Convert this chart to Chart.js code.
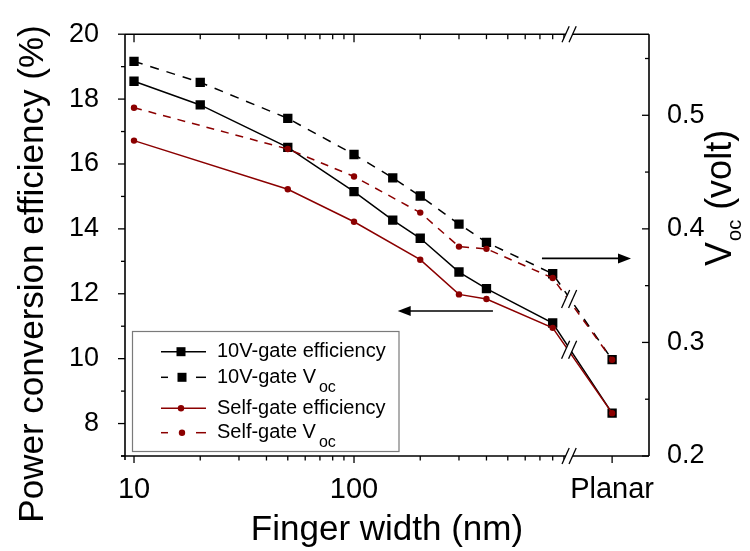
<!DOCTYPE html>
<html>
<head>
<meta charset="utf-8">
<script src="https://cdn.jsdelivr.net/npm/chart.js@4.4.1/dist/chart.umd.min.js"></script>
<style>
  html, body { margin: 0; padding: 0; background: #fff; }
  #wrap { width: 750px; height: 551px; position: relative; }
</style>
</head>
<body>
<div id="wrap"><canvas id="chart"></canvas></div>
<script>
// finger widths (nm); the last point of every series is the planar device
const widths10V = [10, 20, 50, 100, 150, 200, 300, 400, 800, 'Planar'];
const widthsSelf = [10, 50, 100, 200, 300, 400, 800, 'Planar'];

// power conversion efficiency (%) and Voc (volt)
const eff10V = [18.55, 17.82, 16.51, 15.15, 14.27, 13.71, 12.67, 12.16, 11.1, 8.32];
const voc10V = [0.5475, 0.529, 0.4973, 0.4655, 0.4449, 0.4289, 0.4042, 0.3881, 0.3605, 0.2848];
const effSelf = [16.72, 15.22, 14.22, 13.05, 11.98, 11.84, 10.95, 8.32];
const vocSelf = [0.5067, 0.4703, 0.4461, 0.4143, 0.3844, 0.3824, 0.3567, 0.2848];

// axis ticks
const xTickLabels = ['10', '100', 'Planar'];
const xMinorTicks = [20, 30, 40, 50, 60, 70, 80, 90, 200, 300, 400, 500, 600, 700, 800, 900];
const effTicks = [8, 10, 12, 14, 16, 18, 20];
const effMinorTicks = [7, 9, 11, 13, 15, 17, 19];
const vocTicks = [0.2, 0.3, 0.4, 0.5];
const vocMinorTicks = [0.25, 0.35, 0.45, 0.55];

// where "Planar" and the axis break sit on the log axis
const PLANAR_AT = 1490;
const BREAK_AT = 950;

const RED = '#8b0000';
const FONT = 'Arial, "Liberation Sans", sans-serif';

function toXY(widths, vals) {
    return widths.map((w, i) => ({ x: w === 'Planar' ? PLANAR_AT : w, y: vals[i] }));
}

function line(ctx, x1, y1, x2, y2) {
    ctx.beginPath();
    ctx.moveTo(x1, y1);
    ctx.lineTo(x2, y2);
    ctx.stroke();
}

// "//" break mark centred on (cx, cy)
function breakMark(ctx, cx, cy, h) {
    const dx = h * 0.45, gap = 3.5;
    ctx.save();
    ctx.fillStyle = '#fff';
    ctx.beginPath();
    ctx.moveTo(cx - gap - dx, cy + h);
    ctx.lineTo(cx - gap + dx, cy - h);
    ctx.lineTo(cx + gap + dx, cy - h);
    ctx.lineTo(cx + gap - dx, cy + h);
    ctx.closePath();
    ctx.fill();
    ctx.strokeStyle = '#000';
    ctx.lineWidth = 1.3;
    line(ctx, cx - gap - dx, cy + h, cx - gap + dx, cy - h);
    line(ctx, cx + gap - dx, cy + h, cx + gap + dx, cy - h);
    ctx.restore();
}

function arrow(ctx, x1, y, x2) {
    const dir = x2 > x1 ? 1 : -1;
    ctx.save();
    ctx.strokeStyle = '#000';
    ctx.fillStyle = '#000';
    ctx.lineWidth = 1.6;
    line(ctx, x1, y, x2 - dir * 10, y);
    ctx.beginPath();
    ctx.moveTo(x2, y);
    ctx.lineTo(x2 - dir * 13, y - 5);
    ctx.lineTo(x2 - dir * 13, y + 5);
    ctx.closePath();
    ctx.fill();
    ctx.restore();
}

// text followed by subscript, e.g. V + oc
function subText(ctx, x, y, main, sub, size, subSize, subGap, subDrop, rest) {
    ctx.font = size + 'px ' + FONT;
    ctx.fillText(main, x, y);
    let cx = x + ctx.measureText(main).width + subGap;
    ctx.font = subSize + 'px ' + FONT;
    ctx.fillText(sub, cx, y + subDrop);
    cx += ctx.measureText(sub).width;
    if (rest) {
        ctx.font = size + 'px ' + FONT;
        ctx.fillText(rest, cx, y);
    }
}

const decor = {
    id: 'decor',
    afterDatasetsDraw(chart) {
        const { ctx, chartArea: a } = chart;
        const x = chart.scales.x, y = chart.scales.y, y1 = chart.scales.y1;
        const bx = x.getPixelForValue(BREAK_AT);

        // breaks on the lines between 800 nm and planar
        const pairs = [[0, 2], [1, 3]];
        pairs.forEach(p => {
            let sum = 0;
            p.forEach(i => {
                const pts = chart.getDatasetMeta(i).data;
                const p1 = pts[pts.length - 2], p2 = pts[pts.length - 1];
                sum += p1.y + (bx - p1.x) / (p2.x - p1.x) * (p2.y - p1.y);
            });
            breakMark(ctx, bx, sum / p.length, 9);
        });

        ctx.save();
        ctx.strokeStyle = '#000';
        ctx.lineWidth = 1.6;
        // frame
        line(ctx, a.left, a.top, a.left, a.bottom + 4);
        line(ctx, a.right, a.top, a.right, a.bottom);
        line(ctx, a.left - 4, a.bottom, a.right, a.bottom);
        line(ctx, a.left, a.top, a.right, a.top);

        ctx.lineWidth = 1.3;
        // left ticks (outside)
        effTicks.forEach(v => { const py = y.getPixelForValue(v); line(ctx, a.left, py, a.left - 7, py); });
        effMinorTicks.forEach(v => { const py = y.getPixelForValue(v); line(ctx, a.left, py, a.left - 4, py); });
        // right ticks (inside)
        vocTicks.forEach(v => { const py = y1.getPixelForValue(v); line(ctx, a.right, py, a.right - 7, py); });
        vocMinorTicks.forEach(v => { const py = y1.getPixelForValue(v); line(ctx, a.right, py, a.right - 4, py); });
        // bottom ticks (outside) and top ticks (inside)
        [10, 100, PLANAR_AT].forEach(v => { const px = x.getPixelForValue(v); line(ctx, px, a.bottom, px, a.bottom + 7); });
        [10, 100].forEach(v => { const px = x.getPixelForValue(v); line(ctx, px, a.top, px, a.top + 8); });
        xMinorTicks.forEach(v => {
            const px = x.getPixelForValue(v);
            line(ctx, px, a.bottom, px, a.bottom + 4.5);
            line(ctx, px, a.top, px, a.top + 5);
        });
        ctx.restore();

        // axis breaks
        breakMark(ctx, bx, a.top, 8);
        breakMark(ctx, bx, a.bottom, 8);

        // arrows pointing to the axis of each pair of curves
        arrow(ctx, x.getPixelForValue(428), y.getPixelForValue(11.47), x.getPixelForValue(158));
        arrow(ctx, x.getPixelForValue(715), y1.getPixelForValue(0.374), x.getPixelForValue(1816));

        // legend
        ctx.save();
        ctx.strokeStyle = '#7a7a7a';
        ctx.lineWidth = 1.2;
        ctx.strokeRect(132.5, 331.5, 266.5, 120);
        const rows = [
            { y: 351.7, color: '#000', dash: false, rect: true, main: '10V-gate efficiency' },
            { y: 377.3, color: '#000', dash: true, rect: true, main: '10V-gate V', sub: 'oc' },
            { y: 408.3, color: RED, dash: false, rect: false, main: 'Self-gate efficiency' },
            { y: 432.7, color: RED, dash: true, rect: false, main: 'Self-gate V', sub: 'oc' }
        ];
        rows.forEach(r => {
            ctx.strokeStyle = r.color;
            ctx.fillStyle = r.color;
            ctx.lineWidth = 1.5;
            if (r.dash) {
                line(ctx, 161, r.y, 168, r.y);
                line(ctx, 196, r.y, 206, r.y);
            } else {
                line(ctx, 161, r.y, 206, r.y);
            }
            const mx = r.dash ? 182 : 181;
            if (r.rect) {
                ctx.fillRect(mx - 4.5, r.y - 4.5, 9, 9);
            } else {
                ctx.beginPath();
                ctx.arc(mx, r.y, 3.2, 0, Math.PI * 2);
                ctx.fill();
            }
            ctx.fillStyle = '#000';
            ctx.textBaseline = 'middle';
            ctx.textAlign = 'left';
            if (r.sub) {
                subText(ctx, 217, r.y, r.main, r.sub, 20, 16, 3, 10);
            } else {
                ctx.font = '20px ' + FONT;
                ctx.fillText(r.main, 217, r.y);
            }
        });
        ctx.restore();

        // axis titles
        ctx.save();
        ctx.fillStyle = '#000';
        ctx.textBaseline = 'alphabetic';
        ctx.font = '35px ' + FONT;
        ctx.textAlign = 'center';
        ctx.fillText('Finger width (nm)', (a.left + a.right) / 2, 540);

        ctx.save();
        ctx.translate(43, 274);
        ctx.rotate(-Math.PI / 2);
        ctx.fillText('Power conversion efficiency (%)', 0, 0);
        ctx.restore();

        ctx.translate(731, 266);
        ctx.rotate(-Math.PI / 2);
        ctx.textAlign = 'left';
        subText(ctx, 0, 0, 'V', 'oc', 36, 20, 1, 10, ' (volt)');
        ctx.restore();
    }
};

new Chart(document.getElementById('chart'), {
    type: 'line',
    data: {
        datasets: [
            {
                label: 'Self-gate efficiency',
                data: toXY(widthsSelf, effSelf),
                yAxisID: 'y',
                borderColor: RED, backgroundColor: RED,
                borderWidth: 1.5,
                pointStyle: 'circle', pointRadius: 3.2, pointBorderWidth: 0,
                order: 0
            },
            {
                label: 'Self-gate Voc',
                data: toXY(widthsSelf, vocSelf),
                yAxisID: 'y1',
                borderColor: RED, backgroundColor: RED,
                borderWidth: 1.5, borderDash: [8, 7],
                pointStyle: 'circle', pointRadius: 3.2, pointBorderWidth: 0,
                order: 0
            },
            {
                label: '10V-gate efficiency',
                data: toXY(widths10V, eff10V),
                yAxisID: 'y',
                borderColor: '#000', backgroundColor: '#000',
                borderWidth: 1.5,
                pointStyle: 'rect', pointRadius: 6.6, pointBorderWidth: 0,
                order: 1
            },
            {
                label: '10V-gate Voc',
                data: toXY(widths10V, voc10V),
                yAxisID: 'y1',
                borderColor: '#000', backgroundColor: '#000',
                borderWidth: 1.5, borderDash: [9, 8],
                pointStyle: 'rect', pointRadius: 6.6, pointBorderWidth: 0,
                order: 1
            }
        ]
    },
    options: {
        responsive: true,
        maintainAspectRatio: false,
        animation: false,
        devicePixelRatio: 1,
        layout: { padding: { top: 31, left: 0, right: 0, bottom: 0 } },
        plugins: { legend: { display: false }, tooltip: { enabled: false } },
        scales: {
            x: {
                type: 'logarithmic',
                position: 'bottom',
                min: 9.1,
                max: 2192,
                afterBuildTicks: s => { s.ticks = [10, 100, PLANAR_AT].map(v => ({ value: v })); },
                afterFit: s => { s.height = 95; },
                grid: { display: false },
                border: { display: false },
                ticks: {
                    callback: (v, i) => xTickLabels[i],
                    autoSkip: false, maxRotation: 0,
                    color: '#000', padding: 9,
                    font: { family: FONT, size: 29 }
                }
            },
            y: {
                position: 'left',
                min: 7,
                max: 20,
                afterBuildTicks: s => { s.ticks = effTicks.map(v => ({ value: v })); },
                afterFit: s => { s.width = 125; },
                grid: { display: false },
                border: { display: false },
                ticks: {
                    callback: v => String(v),
                    color: '#000', padding: 18,
                    font: { family: FONT, size: 27 }
                }
            },
            y1: {
                position: 'right',
                min: 0.2,
                max: 0.5714,
                afterBuildTicks: s => { s.ticks = vocTicks.map(v => ({ value: v })); },
                afterFit: s => { s.width = 101; },
                grid: { display: false },
                border: { display: false },
                ticks: {
                    callback: v => v.toFixed(1),
                    color: '#000', padding: 10,
                    font: { family: FONT, size: 27 }
                }
            }
        }
    },
    plugins: [decor]
});
</script>
</body>
</html>
